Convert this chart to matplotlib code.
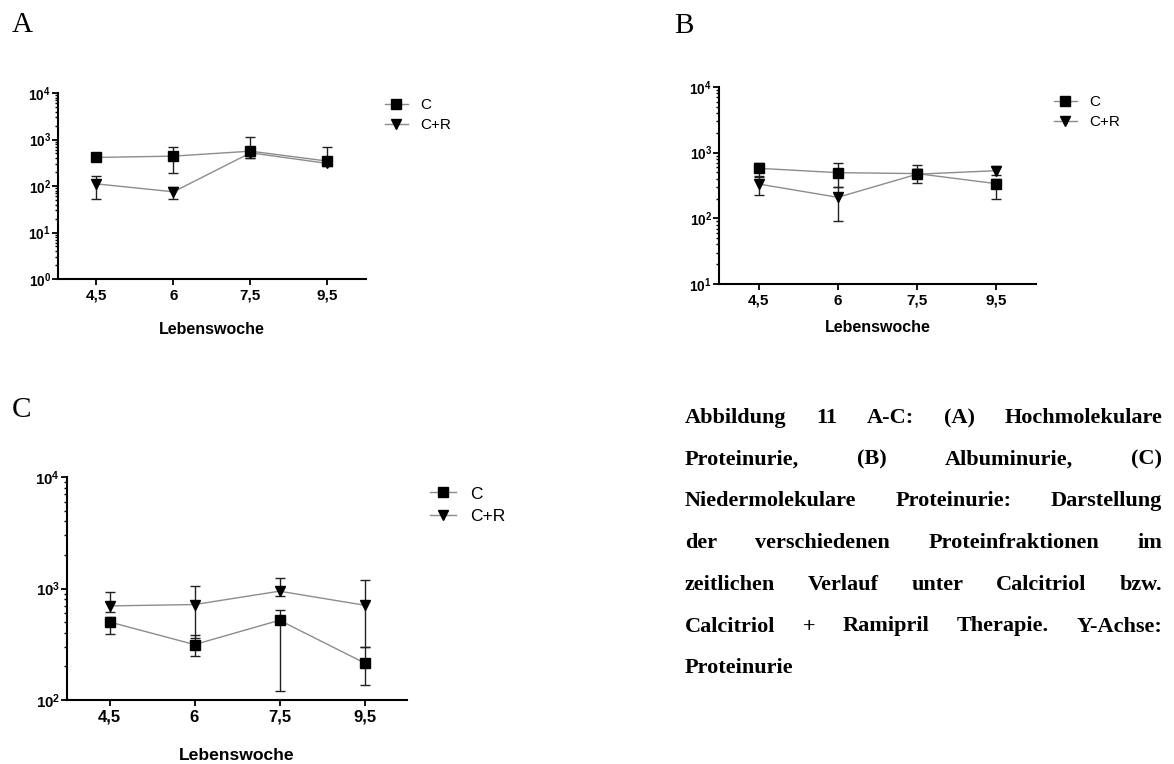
import matplotlib
matplotlib.use('Agg')
import matplotlib.pyplot as plt
from matplotlib.lines import Line2D
from matplotlib.ticker import LogLocator, FixedLocator, NullFormatter
import numpy as np

plt.rcParams['font.family'] = ['Liberation Sans', 'DejaVu Sans']
plt.rcParams['mathtext.fontset'] = 'custom'
plt.rcParams['mathtext.bf'] = 'Liberation Sans:bold'
plt.rcParams['mathtext.rm'] = 'Liberation Sans'

# categories (week of life)
weeks = ['4,5', '6', '7,5', '9,5']

# A: high molecular proteinuria (mean, lower, upper)
a_c = [411, 439, 561, 343]
a_c_lo = [400, 186, 391, 320]
a_c_hi = [425, 695, 1137, 675]
a_cr = [111, 75, 516, 306]
a_cr_lo = [52, 52, 400, 268]
a_cr_hi = [161, 93, 560, 320]

# B: albuminuria
b_c = [578, 496, 480, 337]
b_c_lo = [431, 303, 349, 197]
b_c_hi = [691, 690, 650, 400]
b_cr = [333, 209, 470, 532]
b_cr_lo = [226, 91, 420, 450]
b_cr_hi = [440, 303, 560, 634]

# C: low molecular proteinuria
c_c = [501, 314, 519, 215]
c_c_lo = [394, 246, 120, 135]
c_c_hi = [560, 380, 638, 299]
c_cr = [698, 718, 946, 708]
c_cr_lo = [617, 363, 860, 299]
c_cr_hi = [932, 1047, 1230, 1203]

caption = ['Abbildung 11 A-C: (A) Hochmolekulare',
           'Proteinurie, (B) Albuminurie, (C)',
           'Niedermolekulare Proteinurie: Darstellung',
           'der verschiedenen Proteinfraktionen im',
           'zeitlichen Verlauf unter Calcitriol bzw.',
           'Calcitriol + Ramipril Therapie. Y-Achse:',
           'Proteinurie']

W, H = 1174, 764
fig = plt.figure(figsize=(W / 100, H / 100), dpi=100)


def px_axes(l, t, r, b):
    return fig.add_axes([l / W, 1 - b / H, (r - l) / W, (b - t) / H])


def panel(ax, c, c_lo, c_hi, cr, cr_lo, cr_hi, ylo, fs):
    x = np.arange(len(weeks))
    for m, lo, hi, mk in [(c, c_lo, c_hi, 's'), (cr, cr_lo, cr_hi, 'v')]:
        m = np.array(m, float)
        err = [m - np.array(lo), np.array(hi) - m]
        ax.plot(x, m, '-', color='#8c8c8c', lw=1.0, zorder=2)
        ax.errorbar(x, m, yerr=err, fmt='none', ecolor='#222222', elinewidth=1.0,
                    capsize=3.8, capthick=1.0, zorder=3)
        ax.plot(x, m, mk, color='black', ms=7, zorder=4, ls='none')

    ax.set_yscale('log')
    ax.set_ylim(ylo, 1e4)
    ax.set_xlim(-0.5, 3.5)
    ax.set_xticks(x)
    ax.set_xticklabels(weeks, fontsize=fs, fontweight='bold')
    decs = np.arange(int(np.log10(ylo)), 5)
    ax.yaxis.set_major_locator(FixedLocator(10.0 ** decs))
    ax.set_yticklabels([r'$\mathbf{10^{%d}}$' % d for d in decs], fontsize=fs * 0.9)
    ax.yaxis.set_minor_locator(LogLocator(base=10, subs=np.arange(2, 10)))
    ax.yaxis.set_minor_formatter(NullFormatter())
    for s in ['top', 'right']:
        ax.spines[s].set_visible(False)
    for s in ['left', 'bottom']:
        ax.spines[s].set_linewidth(1.5)
    ax.tick_params(axis='both', which='major', direction='out', length=4, width=1.3)
    ax.tick_params(axis='y', which='minor', direction='out', length=2.5, width=1.0)
    ax.tick_params(axis='x', pad=3)
    ax.tick_params(axis='y', pad=1)
    ax.set_xlabel('Lebenswoche', fontsize=fs * 1.05, fontweight='bold')
    ax.xaxis.label.set_va('center')


def legend(ax, xs, ymid, fs):
    handles = [Line2D([], [], color='#8c8c8c', lw=1.0, marker='s', mfc='black', mec='black', ms=7),
               Line2D([], [], color='#8c8c8c', lw=1.0, marker='v', mfc='black', mec='black', ms=7)]
    ax.legend(handles, ['C', 'C+R'], loc='center left', bbox_to_anchor=(xs / W, 1 - ymid / H),
              bbox_transform=fig.transFigure, frameon=False, fontsize=fs,
              handlelength=1.5, handletextpad=0.8, borderpad=0, borderaxespad=0,
              labelspacing=0.4)


ax_a = px_axes(58, 93, 366, 279)
panel(ax_a, a_c, a_c_lo, a_c_hi, a_cr, a_cr_lo, a_cr_hi, 1, 11)
ax_a.xaxis.set_label_coords(0.5, -(330 - 279) / 186)
legend(ax_a, 385, 115, 11)

ax_b = px_axes(719, 87, 1036, 284)
panel(ax_b, b_c, b_c_lo, b_c_hi, b_cr, b_cr_lo, b_cr_hi, 10, 11)
ax_b.xaxis.set_label_coords(0.5, -(328 - 284) / 197)
legend(ax_b, 1054, 112, 11)

ax_c = px_axes(67, 477, 407, 700)
panel(ax_c, c_c, c_c_lo, c_c_hi, c_cr, c_cr_lo, c_cr_hi, 100, 12)
ax_c.xaxis.set_label_coords(0.5, -(755 - 700) / 223)
legend(ax_c, 430, 505, 12.5)

# panel letters
for lab, lx, ly in [('A', 12, 32), ('B', 674, 33), ('C', 12, 417)]:
    fig.text(lx / W, 1 - ly / H, lab, family='Liberation Serif', fontsize=21, va='baseline')

# justified caption
r = fig.canvas.get_renderer()
x0, x1, y0, dy = 685, 1162, 423, 41.7
for i, line in enumerate(caption):
    words = line.split()
    y = 1 - (y0 + i * dy) / H
    texts = [fig.text(0, y, w, family='Liberation Serif', fontweight='bold',
                      fontsize=16, va='baseline') for w in words]
    widths = [t.get_window_extent(r).width for t in texts]
    if i == len(caption) - 1 or len(words) == 1:
        gap = 5
    else:
        gap = (x1 - x0 - sum(widths)) / (len(words) - 1)
    xp = x0
    for t, w in zip(texts, widths):
        t.set_x(xp / W)
        xp += w + gap

fig.savefig('out.png', dpi=100)
